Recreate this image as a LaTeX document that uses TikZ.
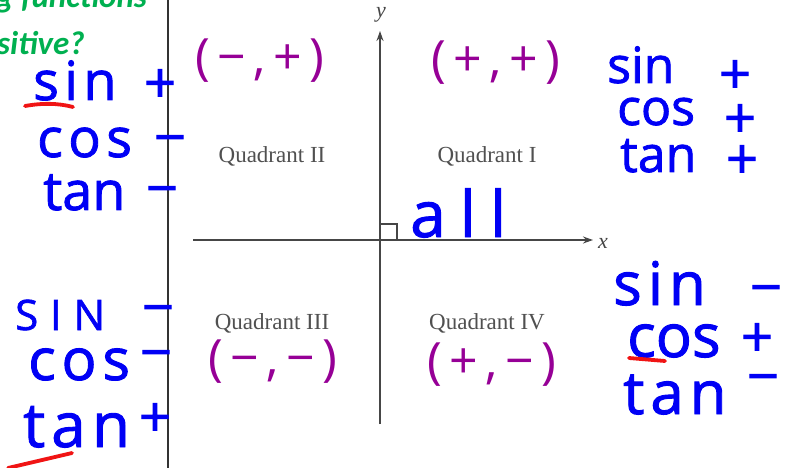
\documentclass[tikz,border=0pt]{standalone}
\usepackage{fontspec}
\setmainfont{Liberation Serif}
\newfontfamily\handfont[LetterSpace=10,FakeBold=1.5]{Open Sans}
\newfontfamily\allfont[LetterSpace=22,FakeBold=1.5]{Open Sans}
\newfontfamily\tuplefont[LetterSpace=15]{Open Sans}
\newfontfamily\notefont{Carlito}
\usetikzlibrary{arrows.meta,positioning}
\definecolor{ink}{RGB}{0,0,245}
\definecolor{inkpurple}{RGB}{150,0,150}
\definecolor{inkred}{RGB}{240,20,20}
\definecolor{notegreen}{RGB}{0,176,80}
\definecolor{axisgray}{RGB}{70,70,70}
\definecolor{quadgray}{RGB}{80,80,80}
\tikzset{
  handword/.style={text=ink, inner sep=0pt, anchor=base west,
                   font=\handfont\fontsize{#1}{#1}\selectfont},
  handword/.default=54,
  handtight/.style={handword=#1,
                    font=\handfont\addfontfeature{LetterSpace=0}\fontsize{#1}{#1}\selectfont},
  handsign/.style={text=ink, inner sep=0pt, yshift=-9pt,
                   font=\handfont\fontsize{56}{56}\selectfont},
  tuple/.style={text=inkpurple, inner sep=0pt,
                font=\tuplefont\fontsize{50}{50}\selectfont},
  quadlabel/.style={text=quadgray, inner sep=0pt,
                    font=\fontsize{23}{23}\selectfont},
  axislabel/.style={text=axisgray, inner sep=0pt,
                    font=\itshape\fontsize{22}{22}\selectfont},
  axis/.style={draw=axisgray, line width=1.6pt},
  axisarrow/.style={axis, -{Stealth[length=10pt,width=7pt]}},
  underline/.style={draw=inkred, line width=3.8pt, line cap=round},
  note/.style={text=notegreen, inner sep=0pt, anchor=base west,
               font=\notefont\bfseries\itshape\fontsize{33}{33}\selectfont},
}
\begin{document}
\begin{tikzpicture}[x=1pt,y=-1pt]
  \clip (0,0) rectangle (785,468);
  \fill[white] (0,0) rectangle (785,468);

  % cut-off question on the left
  \node[note] (q1) at (-4,8) {g functions};
  \node[note] (q2) at (-3,55) {sitive?};
  \draw[draw=black!80, line width=2.2pt] (168,0) -- (168,468);

  % axes
  \coordinate (O) at (380,240);
  \coordinate (xl) at (193,240);
  \coordinate (xr) at (593,240);
  \coordinate (yb) at (380,424);
  \coordinate (yt) at (380,31);
  \draw[axisarrow] (xl) -- (xr);
  \draw[axisarrow] (yb) -- (yt);
  \draw[axis, line width=1.1pt] (O) ++(1,-16) -| ++(16,16);
  \node[axislabel] (xlab) at (603,243) {x};
  \node[axislabel] (ylab) at (381,15) {y};

  % quadrant names
  \node[quadlabel] (q2name) at (272,156) {Quadrant II};
  \node[quadlabel] (q1name) at (487,156) {Quadrant I};
  \node[quadlabel] (q3name) at (272,323) {Quadrant III};
  \node[quadlabel] (q4name) at (487,323) {Quadrant IV};

  % sign pairs
  \node[tuple] (t2) at (260,61) {(−,+)};
  \node[tuple] (t1) at (496,63) {(+,+)};
  \node[tuple] (t3) at (273,362) {(−,−)};
  \node[tuple] (t4) at (492,365) {(+,−)};
  \node[text=ink, inner sep=0pt, anchor=base west,
        font=\allfont\fontsize{64}{64}\selectfont] (all) at (410,237) {all};

  % quadrant II
  \node[handword] (sin2) at (33,100) {sin};
  \node[handword] (cos2) at (37,157) {cos};
  \node[handtight=54] (tan2) at (43,210) {tan};
  \node[handsign] (s2) at (160,77) {+};
  \node[handsign] (c2) at (170,137) {−};
  \node[handsign] (n2) at (162,188) {−};

  % quadrant I
  \node[handtight=50] (sin1) at (607,83) {sin};
  \node[handtight=50] (cos1) at (617,125) {cos};
  \node[handtight=50] (tan1) at (620,172) {tan};
  \node[handsign] (s1) at (735,68) {+};
  \node[handsign] (c1) at (740,112) {+};
  \node[handsign] (n1) at (742,153) {+};

  % quadrant III
  \node[handword, font=\handfont\fontsize{42}{42}\selectfont\addfontfeature{LetterSpace=28}] (sin3) at (15,330) {SIN};
  \node[handword=58] (cos3) at (28,380) {cos};
  \node[handword=62] (tan3) at (23,447) {tan};
  \node[handsign] (s3) at (158,307) {−};
  \node[handsign] (c3) at (156,352) {−};
  \node[handsign] (n3) at (155,411) {+};

  % quadrant IV
  \node[handword=60] (sin4) at (613,305) {sin};
  \node[handtight=60] (cos4) at (627,357) {cos};
  \node[handword=60] (tan4) at (623,414) {tan};
  \node[handsign] (s4) at (766,287) {−};
  \node[handsign] (c4) at (757,331) {+};
  \node[handsign] (n4) at (763,376) {−};

  % red underlines
  \draw[underline] (25,106) .. controls (42,103) and (58,103) .. (73,107);
  \draw[underline] (8,468) -- (72,453);
  \draw[underline] (629,358) -- (665,361);
\end{tikzpicture}
\end{document}
